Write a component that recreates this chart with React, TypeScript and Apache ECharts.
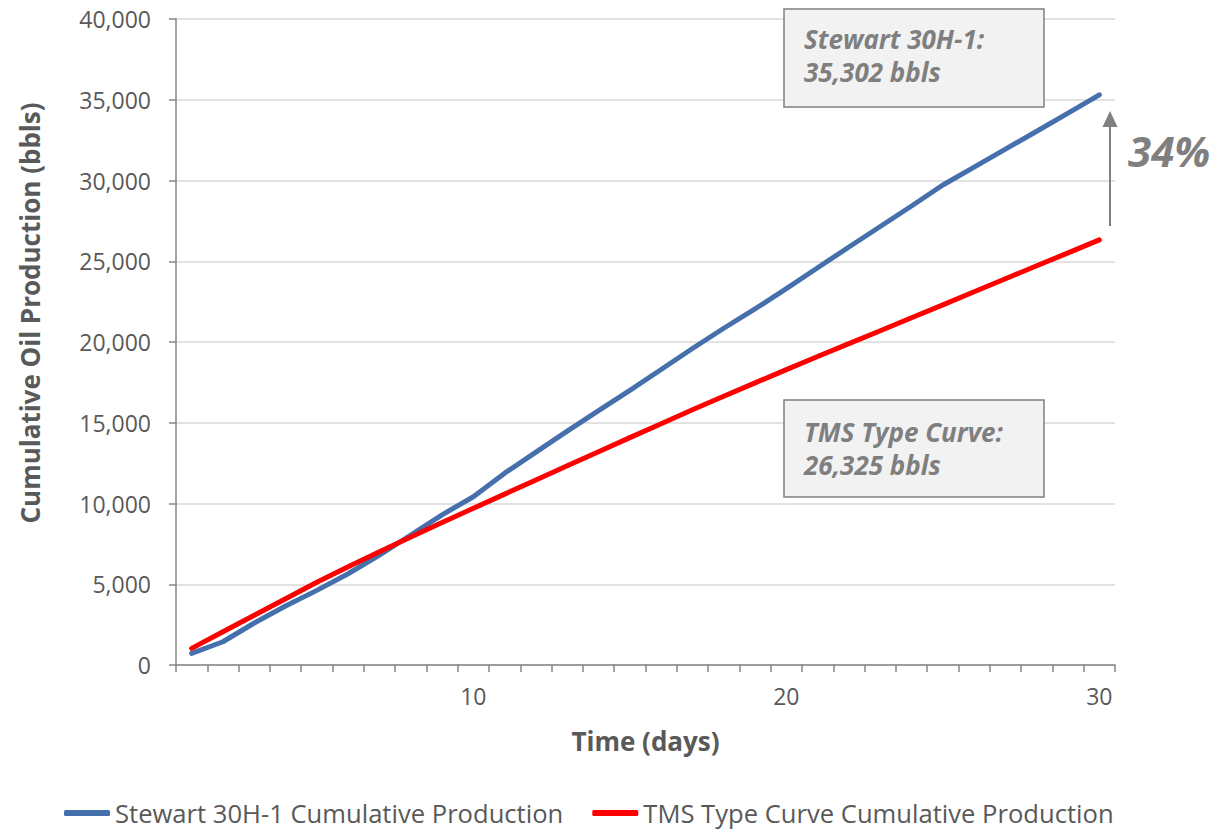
import React, { useEffect, useRef } from "react";
import * as echarts from "echarts";

const days: string[] = [
  "1", "2", "3", "4", "5", "6", "7", "8", "9", "10",
  "11", "12", "13", "14", "15", "16", "17", "18", "19", "20",
  "21", "22", "23", "24", "25", "26", "27", "28", "29", "30",
];

const stewartCum: number[] = [
  720, 1440, 2600, 3650, 4620, 5650, 6800, 8050, 9300, 10420,
  11880, 13180, 14480, 15750, 17000, 18300, 19600, 20850, 22050, 23300,
  24600, 25880, 27150, 28420, 29720, 30830, 31940, 33050, 34170, 35302,
];

const tmsCum: number[] = [
  1030, 2060, 3080, 4100, 5120, 6080, 7010, 7920, 8820, 9700,
  10580, 11460, 12340, 13210, 14080, 14940, 15800, 16640, 17470, 18290,
  19100, 19900, 20700, 21500, 22300, 23110, 23920, 24720, 25520, 26325,
];

const seriesNames: string[] = [
  "Stewart 30H-1 Cumulative Production",
  "TMS Type Curve Cumulative Production",
];

const stewartNote: string[] = ["Stewart 30H-1:", "35,302 bbls"];
const tmsNote: string[] = ["TMS Type Curve:", "26,325 bbls"];
const upliftLabel = "34%";

const FONT = "'Open Sans', 'Noto Sans', sans-serif";
const GREY_TEXT = "#595959";
const NOTE_TEXT = "#7f7f7f";

export default function App() {
  const ref = useRef<HTMLDivElement>(null);

  useEffect(() => {
    if (!ref.current) return;
    const chart = echarts.init(ref.current, undefined, { renderer: "svg" });

    const noteFont = `italic bold 26px ${FONT}`;

    chart.setOption({
      animation: false,
      backgroundColor: "#ffffff",
      textStyle: { fontFamily: FONT },
      grid: { left: 176, top: 19, right: 102, bottom: 164, containLabel: false },
      legend: {
        data: seriesNames,
        left: 64,
        top: 800,
        padding: 0,
        icon: "roundRect",
        itemWidth: 46,
        itemHeight: 6,
        itemGap: 29,
        textStyle: { fontFamily: FONT, fontSize: 25.6, color: GREY_TEXT },
      },
      xAxis: {
        type: "category",
        data: days,
        boundaryGap: true,
        name: "Time (days)",
        nameLocation: "middle",
        nameGap: 63,
        nameTextStyle: { fontFamily: FONT, fontSize: 26, fontWeight: "bold", color: GREY_TEXT },
        axisLine: { show: true, lineStyle: { color: "#868686", width: 1.5 } },
        axisTick: { show: true, interval: 0, length: 7, alignWithLabel: false, lineStyle: { color: "#868686", width: 1.5 } },
        axisLabel: {
          interval: (index: number) => (index + 1) % 10 === 0,
          fontFamily: FONT,
          fontSize: 23,
          color: GREY_TEXT,
          margin: 19,
        },
        splitLine: { show: false },
      },
      yAxis: {
        type: "value",
        min: 0,
        max: 40000,
        interval: 5000,
        name: "Cumulative Oil Production (bbls)",
        nameLocation: "middle",
        nameGap: 133,
        nameTextStyle: {
          fontFamily: FONT,
          fontSize: 26,
          fontWeight: "bold",
          color: GREY_TEXT,
          padding: [0, 0, 0, 58],
        },
        axisLine: { show: true, lineStyle: { color: "#868686", width: 1.5 } },
        axisTick: { show: true, length: 7, lineStyle: { color: "#868686", width: 1.5 } },
        axisLabel: {
          fontFamily: FONT,
          fontSize: 23,
          color: GREY_TEXT,
          margin: 25,
          formatter: (v: number) => v.toLocaleString("en-US"),
        },
        splitLine: { show: true, lineStyle: { color: "#d9d9d9", width: 1.5 } },
      },
      series: [
        {
          name: seriesNames[0],
          type: "line",
          data: stewartCum,
          showSymbol: false,
          symbol: "none",
          lineStyle: { color: "#4670AB", width: 5, cap: "round", join: "round" },
          itemStyle: { color: "#4670AB" },
          z: 3,
        },
        {
          name: seriesNames[1],
          type: "line",
          data: tmsCum,
          showSymbol: false,
          symbol: "none",
          lineStyle: { color: "#FF0000", width: 5, cap: "round", join: "round" },
          itemStyle: { color: "#FF0000" },
          z: 4,
        },
      ],
      graphic: [
        {
          type: "rect",
          shape: { x: 784, y: 9, width: 260, height: 98 },
          style: { fill: "#f2f2f2", stroke: "#808080", lineWidth: 1.5 },
          z: 10,
        },
        {
          type: "text",
          x: 804,
          y: 39,
          style: { text: stewartNote[0], font: noteFont, fill: NOTE_TEXT, verticalAlign: "middle" },
          z: 11,
        },
        {
          type: "text",
          x: 804,
          y: 72,
          style: { text: stewartNote[1], font: noteFont, fill: NOTE_TEXT, verticalAlign: "middle" },
          z: 11,
        },
        {
          type: "rect",
          shape: { x: 784, y: 400, width: 260, height: 97 },
          style: { fill: "#f2f2f2", stroke: "#808080", lineWidth: 1.5 },
          z: 10,
        },
        {
          type: "text",
          x: 804,
          y: 432,
          style: { text: tmsNote[0], font: noteFont, fill: NOTE_TEXT, verticalAlign: "middle" },
          z: 11,
        },
        {
          type: "text",
          x: 804,
          y: 465,
          style: { text: tmsNote[1], font: noteFont, fill: NOTE_TEXT, verticalAlign: "middle" },
          z: 11,
        },
        {
          type: "line",
          shape: { x1: 1110, y1: 226, x2: 1110, y2: 124 },
          style: { stroke: "#808080", lineWidth: 2 },
          z: 10,
        },
        {
          type: "polygon",
          shape: { points: [[1102.5, 127], [1117.5, 127], [1110, 111]] },
          style: { fill: "#808080" },
          z: 10,
        },
        {
          type: "text",
          x: 1128,
          y: 150,
          style: { text: upliftLabel, font: `italic bold 42px ${FONT}`, fill: NOTE_TEXT, verticalAlign: "middle" },
          z: 11,
        },
      ],
    });

    return () => chart.dispose();
  }, []);

  return (
    <div
      ref={ref}
      style={{ position: "fixed", left: 0, top: 0, width: 1217, height: 829 }}
    />
  );
}
